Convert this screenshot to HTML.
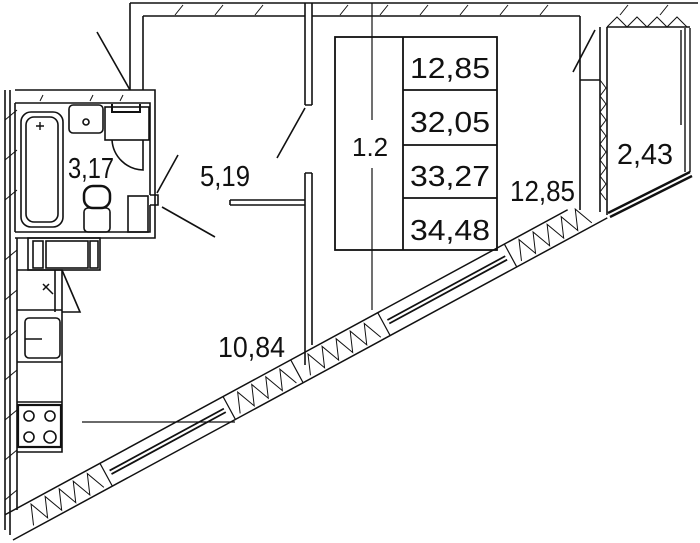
<!DOCTYPE html>
<html><head><meta charset="utf-8"><style>
html,body{margin:0;padding:0;background:#fff;width:700px;height:543px;overflow:hidden}
svg{display:block}
text{font-family:"Liberation Sans",sans-serif;fill:#111}
</style></head><body>
<svg width="700" height="543" viewBox="0 0 700 543" xmlns="http://www.w3.org/2000/svg">
<g fill="none" stroke="#111" stroke-width="1.6">
<!-- top wall -->
<path d="M130 3 H698 M143 16 H305 M312 16 H580 M607 27 H690"/>
<path d="M130 3 V90 M143 16 V90"/>
<path d="M305 3 V105 M312 3 V105 M305 105 H312"/>
<path d="M305 173 V365 M312 173 V345 M305 173 H312"/>
<path d="M230 200 H305 M230 205 H305 M230 200 V205"/>
<path d="M175 15 l8 -10 M215 15 l8 -10 M255 15 l8 -10 M340 15 l8 -10 M380 15 l8 -10 M420 15 l8 -10 M460 15 l8 -10 M500 15 l8 -10 M540 15 l8 -10 M620 15 l8 -10 M660 15 l8 -10" stroke-width="1"/>
<path d="M607 27 l10 -10 l10 10 l10 -10 l10 10 l10 -10 l10 10 l10 -10 l10 10" stroke-width="1"/>
<!-- partition balcony -->
<path d="M580 16 V210 M600 27 V212 M607 27 V215 M580 80 H600"/>
<path d="M600 80 l6 8 l-6 8 l6 8 l-6 8 l6 8 l-6 8 l6 8 l-6 8 l6 8 l-6 8 l6 8 l-6 8 l6 8 l-6 8 l6 8" stroke-width="1"/>
<path d="M595 30 L573 72"/>
<!-- right glazing -->
<path d="M685 28 V172 M690 28 V172 M681 30 V125" stroke-width="1.4"/>
<path d="M608 213 L690 172 M610 217 L692 176" stroke-width="2.4"/>
<!-- left outer wall -->
<path d="M5 90 V530 M10 90 V535 M17 238 V510"/>
<path d="M5 120 l12 -10 M5 160 l12 -10 M5 200 l12 -10 M5 260 l12 -10 M5 300 l12 -10 M5 340 l12 -10 M5 380 l12 -10 M5 420 l12 -10 M5 460 l12 -10 M5 500 l12 -10" stroke-width="1"/>
<!-- bathroom -->
<path d="M15 90 H155 V238 H15 M15 103 H150 V195 M150 205 V232 H15 M15 103 V232"/>
<path d="M40 101 l3 -6 M90 101 l3 -6 M120 101 l3 -6" stroke-width="1"/>
<path d="M150 195 H158 V205 H150"/>
<rect x="21" y="112" width="42" height="115" rx="10"/>
<rect x="26" y="117" width="32" height="105" rx="8"/>
<path d="M40 122 v8 M36 126 h8" stroke-width="1.4"/>
<rect x="69" y="105" width="34" height="28" rx="4"/>
<circle cx="86" cy="122" r="3"/>
<rect x="105" y="107" width="44" height="33"/>
<path d="M112 104 V112 H140 V104" stroke-width="2"/>
<path d="M112 140 A32 32 0 0 0 143 170 V140"/>
<rect x="84" y="186" width="26" height="22" rx="9" stroke-width="2.5"/>
<rect x="84" y="208" width="26" height="24" rx="4"/>
<rect x="128" y="196" width="20" height="36"/>
<path d="M130 90 L97 32 M157 193 L178 155 M162 207 L215 237 M277 158 L305 108"/>
<rect x="28" y="238" width="72" height="32"/>
<rect x="33" y="241" width="10" height="27"/>
<rect x="46" y="241" width="42" height="27"/>
<rect x="90" y="241" width="8" height="27"/>
<!-- kitchen -->
<path d="M17 270 H62 V452 H17 M17 310 H62 M17 362 H62 M17 402 H62"/>
<path d="M55 270 V312 M62 270 L80 312 H62"/>
<path d="M43 290 l6 -6 M43 284 l10 10" stroke-width="1.5"/>
<rect x="25" y="318" width="35" height="40" rx="4"/>
<path d="M25 339 H42" stroke-width="1.4"/>
<rect x="18" y="405" width="43" height="42" stroke-width="2.2"/>
<circle cx="29" cy="416" r="5"/><circle cx="50" cy="416" r="5"/>
<circle cx="29" cy="437" r="5"/><circle cx="50" cy="437" r="6"/>
<path d="M82 422 H235" stroke-width="1.2"/>
<!-- diagonal wall in rotated frame -->
<g transform="translate(13,540) rotate(-28.46)">
<path d="M0 0 H676 M5 -26 H645" stroke-width="1.5"/>
<path d="M113 0 V-26 M253 0 V-26 M429 0 V-26 M573 0 V-26 M330 0 V-26" stroke-width="1.2"/>
<path d="M118 -11 H248 M118 -15 H248 M434 -11 H568 M434 -15 H568" stroke-width="1.8"/>
<path d="M25 -3 l8 -20 l8 20 l8 -20 l8 20 l8 -20 l8 20 l8 -20 l8 20 l8 -20 l8 20 M260 -3 l8 -20 l8 20 l8 -20 l8 20 l8 -20 l8 20 l8 -20 l8 20 M340 -3 l8 -20 l8 20 l8 -20 l8 20 l8 -20 l8 20 l8 -20 l8 20 l8 -20 l8 20 M580 -3 l8 -20 l8 20 l8 -20 l8 20 l8 -20 l8 20 l8 -20 l8 20 l8 -20 l8 20" stroke-width="1"/>
</g>
<!-- table -->
<rect x="335" y="37" width="162" height="213" stroke-width="1.8"/>
<path d="M403 37 V250 M403 90 H497 M403 145 H497 M403 198 H497" stroke-width="1.8"/>
<path d="M372 3 V120 M372 168 V310" stroke-width="1.2"/>
</g>
<g font-size="29">
<text x="352" y="156" font-size="26">1.2</text>
<text x="410" y="78" textLength="80" lengthAdjust="spacingAndGlyphs">12,85</text>
<text x="410" y="132" textLength="80" lengthAdjust="spacingAndGlyphs">32,05</text>
<text x="410" y="186" textLength="80" lengthAdjust="spacingAndGlyphs">33,27</text>
<text x="410" y="240" textLength="80" lengthAdjust="spacingAndGlyphs">34,48</text>
<text x="510" y="201" textLength="65" lengthAdjust="spacingAndGlyphs">12,85</text>
<text x="617" y="164" textLength="56" lengthAdjust="spacingAndGlyphs">2,43</text>
<text x="200" y="186" textLength="50" lengthAdjust="spacingAndGlyphs">5,19</text>
<text x="218" y="357" textLength="67" lengthAdjust="spacingAndGlyphs">10,84</text>
<text x="68" y="178" textLength="46" lengthAdjust="spacingAndGlyphs">3,17</text>
</g>
</svg>
</body></html>
